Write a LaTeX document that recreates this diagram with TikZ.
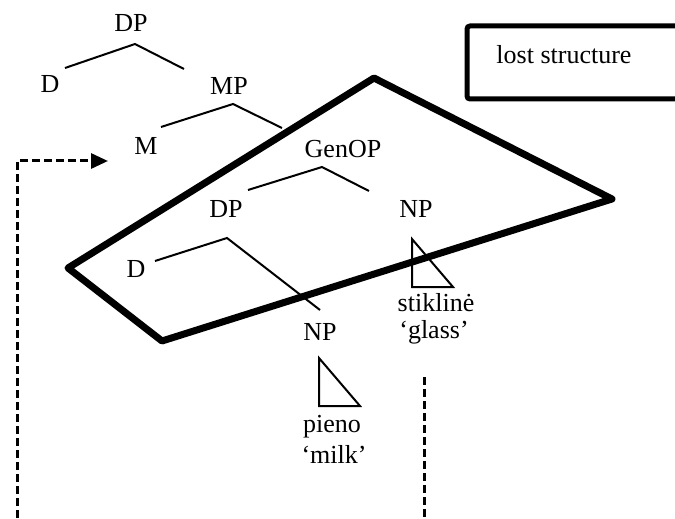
\documentclass[tikz,border=0pt]{standalone}
\usepackage{fontspec}
\setmainfont{Liberation Serif}
\usetikzlibrary{arrows.meta}
\begin{document}
\begin{tikzpicture}[x=0.5pt,y=-0.5pt,
  lbl/.style={inner sep=0pt,anchor=base,font=\fontsize{13}{15}\selectfont},
  branch/.style={line width=1pt},
  lostline/.style={line width=3.5pt,line join=round},
  boxline/.style={line width=2.5pt,rounded corners=1.5pt},
  dashedline/.style={line width=1.5pt,dash pattern=on 4pt off 2pt},
  tri/.style={line width=1pt,line join=miter}]
\useasboundingbox (0,0) rectangle (675,519);
\clip (0,0) rectangle (675,519);

% labels
\node[lbl] (DPtop) at (131,32) {DP};
\node[lbl] (Dtop) at (50,93) {D};
\node[lbl] (MP) at (229,95) {MP};
\node[lbl] (M) at (146,155) {M};
\node[lbl] (GenOP) at (343,157) {GenOP};
\node[lbl] (DPmid) at (226,217) {DP};
\node[lbl] (Dlow) at (136,277) {D};
\node[lbl] (NPr) at (416,217) {NP};
\node[lbl] (NPl) at (320,340) {NP};
\node[lbl] (stik) at (436,311) {stiklinė};
\node[lbl] (glass) at (434,338) {‘glass’};
\node[lbl] (pieno) at (332,432) {pieno};
\node[lbl] (milk) at (334,463) {‘milk’};
\node[lbl] (lost) at (564,64) {lost structure};

% branch points
\coordinate (a1) at (65,68);  \coordinate (a0) at (135,44); \coordinate (a2) at (184,69);
\coordinate (b1) at (161,127); \coordinate (b0) at (233,104); \coordinate (b2) at (282,128);
\coordinate (c1) at (248,190); \coordinate (c0) at (322,167); \coordinate (c2) at (369,191);
\coordinate (d1) at (155,261); \coordinate (d0) at (227,238); \coordinate (d2) at (320,310);

\draw[branch] (a1) -- (a0) -- (a2);
\draw[branch] (b1) -- (b0) -- (b2);
\draw[branch] (c1) -- (c0) -- (c2);
\draw[branch] (d1) -- (d0) -- (d2);

% lost structure region
\coordinate (pL) at (68,268);
\coordinate (pT) at (374,78);
\coordinate (pR) at (612,199);
\coordinate (pB) at (162,341);
\draw[lostline] (pL) -- (pT) -- (pR) -- (pB) -- cycle;

% triangles
\coordinate (t1a) at (412,239); \coordinate (t1b) at (412,287); \coordinate (t1c) at (453,287);
\draw[tri] (t1a) -- (t1b) -- (t1c) -- cycle;
\coordinate (t2a) at (319,358); \coordinate (t2b) at (319,406); \coordinate (t2c) at (360,406);
\draw[tri] (t2a) -- (t2b) -- (t2c) -- cycle;

% legend box (open at right, runs off the page)
\coordinate (bxTR) at (700,26);
\coordinate (bxTL) at (467,26);
\coordinate (bxBL) at (467,99);
\coordinate (bxBR) at (700,99);
\draw[boxline] (bxTR) -- (bxTL) -- (bxBL) -- (bxBR);

% dashed connectors
\coordinate (dsL) at (17,530);
\coordinate (dsC) at (17,161);
\coordinate (dsE) at (108,161);
\draw[dashedline,-{Triangle[length=8.5pt,width=7.5pt]}] (dsL) -- (dsC) -- (dsE);
\coordinate (rtop) at (424,377);
\coordinate (rbot) at (424,530);
\draw[dashedline] (rtop) -- (rbot);
\end{tikzpicture}
\end{document}
